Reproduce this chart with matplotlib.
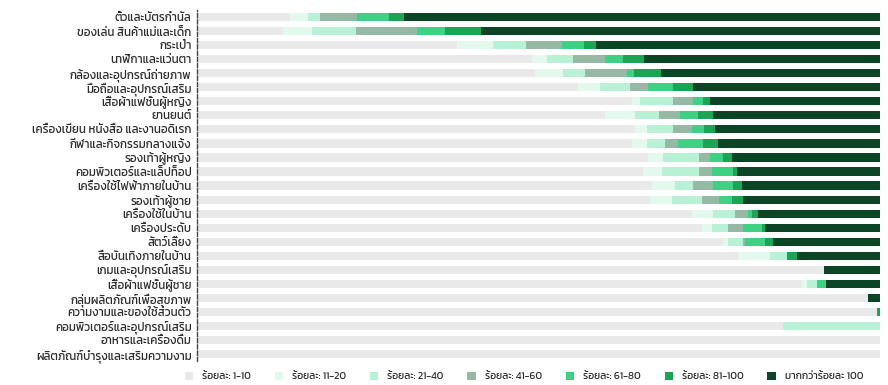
import matplotlib
matplotlib.use("Agg")
import matplotlib.pyplot as plt
from matplotlib.patches import Patch
import numpy as np

plt.rcParams['font.family'] = ['Kanit', 'DejaVu Sans']

# หมวดสินค้า (บนลงล่าง)
categories = [
    "ตั๋วและบัตรกำนัล",
    "ของเล่น สินค้าแม่และเด็ก",
    "กระเป๋า",
    "นาฬิกาและแว่นตา",
    "กล้องและอุปกรณ์ถ่ายภาพ",
    "มือถือและอุปกรณ์เสริม",
    "เสื้อผ้าแฟชั่นผู้หญิง",
    "ยานยนต์",
    "เครื่องเขียน หนังสือ และงานอดิเรก",
    "กีฬาและกิจกรรมกลางแจ้ง",
    "รองเท้าผู้หญิง",
    "คอมพิวเตอร์และแล็ปท็อป",
    "เครื่องใช้ไฟฟ้าภายในบ้าน",
    "รองเท้าผู้ชาย",
    "เครื่องใช้ในบ้าน",
    "เครื่องประดับ",
    "สัตว์เลี้ยง",
    "สื่อบันเทิงภายในบ้าน",
    "เกมและอุปกรณ์เสริม",
    "เสื้อผ้าแฟชั่นผู้ชาย",
    "กลุ่มผลิตภัณฑ์เพื่อสุขภาพ",
    "ความงามและของใช้ส่วนตัว",
    "คอมพิวเตอร์และอุปกรณ์เสริม",
    "อาหารและเครื่องดื่ม",
    "ผลิตภัณฑ์บำรุงและเสริมความงาม",
]

series_labels = ["ร้อยละ: 1-10", "ร้อยละ: 11-20", "ร้อยละ: 21-40", "ร้อยละ: 41-60",
                 "ร้อยละ: 61-80", "ร้อยละ: 81-100", "มากกว่าร้อยละ 100"]

# สัดส่วน (%) ของแต่ละช่วง ต่อหมวดสินค้า
pct_1_10 = [13.6, 12.6, 38.1, 49.0, 49.5, 55.8, 63.7, 59.7, 64.1, 63.7, 66.0, 65.3, 66.6,
            66.3, 72.5, 73.9, 77.0, 79.2, 91.8, 88.6, 98.2, 99.6, 85.8, 100.0, 100.0]
pct_11_20 = [2.7, 4.2, 5.2, 2.3, 4.1, 3.2, 1.2, 4.4, 1.8, 2.2, 2.2, 2.8, 3.4,
             3.2, 3.0, 1.5, 0.7, 4.7, 0.0, 0.7, 0.0, 0.0, 0.0, 0.0, 0.0]
pct_21_40 = [1.7, 6.5, 4.8, 3.7, 3.2, 4.4, 4.8, 3.5, 3.8, 2.6, 5.3, 5.4, 2.6,
             4.4, 3.3, 2.3, 2.2, 2.5, 0.0, 1.5, 0.0, 0.0, 14.2, 0.0, 0.0]
pct_41_60 = [5.4, 8.9, 5.3, 4.7, 6.2, 2.6, 2.9, 3.1, 2.8, 1.9, 1.6, 1.9, 2.9,
             2.5, 1.9, 2.2, 0.3, 0.0, 0.0, 0.0, 0.0, 0.0, 0.0, 0.0, 0.0]
pct_61_80 = [4.7, 4.1, 3.2, 2.6, 1.0, 3.7, 1.5, 2.7, 1.7, 3.7, 1.9, 3.1, 3.0,
             1.9, 0.6, 2.8, 3.0, 0.0, 0.0, 1.3, 0.0, 0.0, 0.0, 0.0, 0.0]
pct_81_100 = [2.2, 5.3, 1.8, 3.1, 3.9, 2.9, 1.0, 2.1, 1.6, 2.2, 1.3, 0.6, 1.3,
              1.6, 0.8, 0.5, 1.1, 1.4, 0.0, 0.0, 0.0, 0.4, 0.0, 0.0, 0.0]
pct_over_100 = [69.7, 58.4, 41.6, 34.6, 32.1, 27.4, 24.9, 24.5, 24.2, 23.7, 21.7, 20.9, 20.2,
                20.1, 17.9, 16.8, 15.7, 12.2, 8.2, 7.9, 1.8, 0.0, 0.0, 0.0, 0.0]

colors = ["#e9e9e9", "#e4f9ee", "#b8f1d6", "#95b9a4", "#3fd183", "#19a553", "#0b4526"]

series = [pct_1_10, pct_11_20, pct_21_40, pct_41_60, pct_61_80, pct_81_100, pct_over_100]

fig = plt.figure(figsize=(8.88, 3.85), dpi=100)
ax = fig.add_axes([0.222, 0.062, 0.769, 0.912])

y = np.arange(len(categories))
left = np.zeros(len(categories))
for vals, col in zip(series, colors):
    vals = np.array(vals)
    ax.barh(y, vals, left=left, height=0.58, color=col, linewidth=0)
    left += vals

ax.set_xlim(0, 100)
ax.set_ylim(len(categories) - 0.5, -0.5)
ax.set_yticks(y)
ax.set_yticklabels(categories, fontsize=8.3, color="#2b2b2b")
ax.tick_params(axis="y", length=0, pad=4)
ax.set_xticks([])
for s in ["top", "right", "bottom"]:
    ax.spines[s].set_visible(False)
ax.spines["left"].set_linestyle((0, (3, 1.5)))
ax.spines["left"].set_color("#444444")
ax.spines["left"].set_linewidth(1.0)

handles = [Patch(facecolor=c, edgecolor="none", label=l) for c, l in zip(colors, series_labels)]
fig.legend(handles=handles, loc="center left", bbox_to_anchor=(0.208, 0.022), ncol=7,
           frameon=False, fontsize=7.4, handlelength=0.8, handleheight=0.8,
           handletextpad=0.9, columnspacing=2.3, borderpad=0.0, borderaxespad=0.0,
           labelcolor="#2b2b2b")

fig.savefig("out.png", dpi=100)
